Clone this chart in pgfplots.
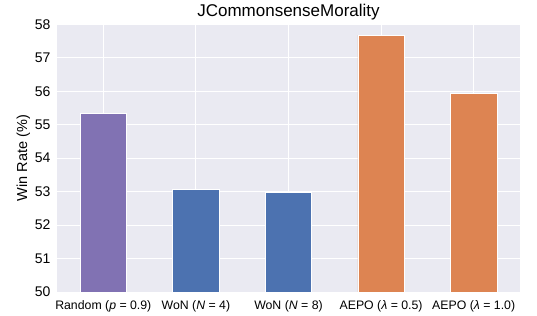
\documentclass[border=0pt]{standalone}
\usepackage{pgfplots}
\pgfplotsset{compat=1.18}
\usepackage{fontspec}
\setmainfont{Liberation Sans}
\definecolor{bgc}{HTML}{EAEAF2}
\definecolor{cpurple}{HTML}{8172B3}
\definecolor{cblue}{HTML}{4C72B0}
\definecolor{corange}{HTML}{DD8452}
\begin{document}
\begin{tikzpicture}
\begin{axis}[
  width=463pt, height=267.5pt, scale only axis,
  xmin=-0.5, xmax=4.5, ymin=50, ymax=58,
  axis background/.style={fill=bgc},
  axis line style={draw=none},
  grid=major, major grid style={white, line width=0.9pt},
  tick style={draw=none},
  xtick={0,1,2,3,4},
  xticklabels={{Random (\textit{p} = 0.9)},{WoN (\textit{N} = 4)},{WoN (\textit{N} = 8)},{AEPO (\textit{λ} = 0.5)},{AEPO (\textit{λ} = 1.0)}},
  ytick={50,51,...,58},
  /pgf/number format/assume math mode=true,
  yticklabel style={font=\fontsize{14}{16}\selectfont, xshift=-3pt},
  xticklabel style={font=\fontsize{12.3}{14}\selectfont, yshift=-1pt},
  ylabel={Win Rate (\%)},
  ylabel style={font=\fontsize{14.5}{16}\selectfont, yshift=-2pt},
  title={JCommonsenseMorality},
  title style={font=\fontsize{17}{19}\selectfont, yshift=-5pt},
  ybar, bar width=0.5, bar shift=0pt,
]
\addplot[fill=cpurple, draw=white, line width=0.6pt] coordinates {(0,55.33)};
\addplot[fill=cblue, draw=white, line width=0.6pt] coordinates {(1,53.08) (2,52.99)};
\addplot[fill=corange, draw=white, line width=0.6pt] coordinates {(3,57.68) (4,55.94)};
\end{axis}
\path ([shift={(-57pt,-24pt)}]current axis.south west) rectangle ([shift={(17pt,24.5pt)}]current axis.north east);
\end{tikzpicture}
\end{document}
